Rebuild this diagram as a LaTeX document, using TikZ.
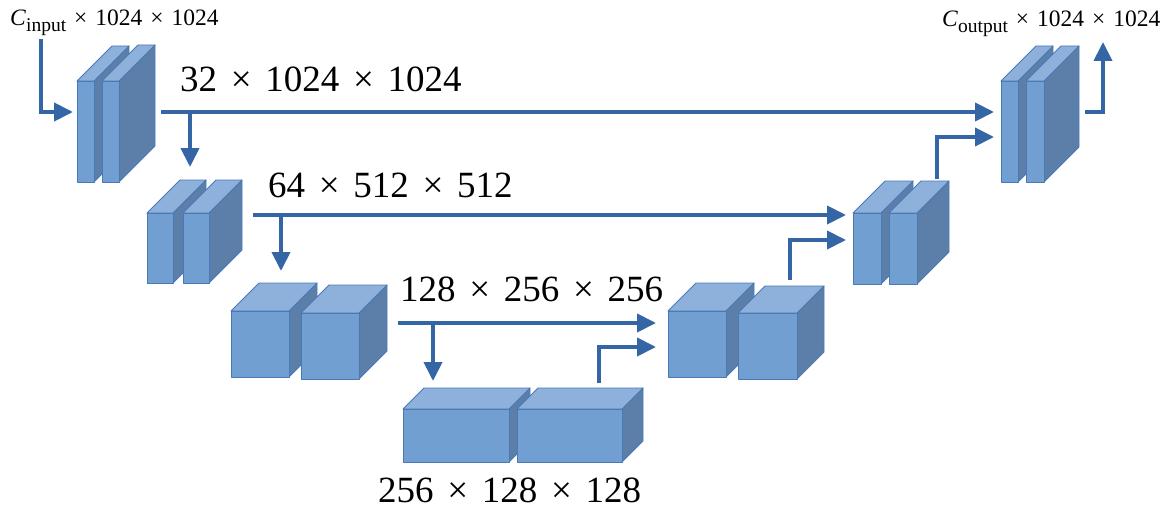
\documentclass[tikz,border=0pt]{standalone}
\usepackage{fontspec}
\setmainfont{Liberation Serif}
\usetikzlibrary{arrows.meta}

\definecolor{frontc}{RGB}{114,159,210}
\definecolor{topc}{RGB}{142,177,220}
\definecolor{sidec}{RGB}{91,127,169}
\definecolor{edgec}{RGB}{74,122,182}
\definecolor{arrowc}{RGB}{52,101,164}

\tikzset{
  face/.style={draw=edgec, line width=0.9pt, line join=round},
  arr/.style={draw=arrowc, line width=4pt, line join=miter,
              -{Triangle[length=19pt,width=18pt]}},
  dimlabel/.style={anchor=base west, inner sep=0pt, font=\fontsize{37}{40}\selectfont},
  smalllabel/.style={anchor=base west, inner sep=0pt, font=\fontsize{23.5}{26}\selectfont},
}

% a box: name, x, y (top-left of front face), width, height, depth
\newcommand\featbox[6]{%
  \filldraw[face, fill=sidec] (#2+#4,#3) -- ++(#6,-#6) -- ++(0,#5) -- (#2+#4,#3+#5) -- cycle;
  \filldraw[face, fill=topc] (#2,#3) -- ++(#6,-#6) -- ++(#4,0) -- (#2+#4,#3) -- cycle;
  \filldraw[face, fill=frontc] (#2,#3) rectangle ++(#4,#5);
  \node[inner sep=0pt, minimum width=#4pt, minimum height=#5pt, anchor=north west] (#1) at (#2,#3) {};
}
\newcommand\X{\hspace{0.37em}×\hspace{0.37em}}
\newcommand\Xs{\hspace{0.34em}×\hspace{0.34em}}
\newcommand\chsub[1]{\textit{C}\raisebox{-0.22em}{\fontsize{19.5}{21}\selectfont #1}}

\begin{document}
\begin{tikzpicture}[x=1pt, y=-1pt]
\useasboundingbox (0,0) rectangle (1172,508);

% encoder
\featbox{e1a}{77}{81}{17}{101}{35}
\featbox{e1b}{102}{81}{17}{101}{36}
\featbox{e2a}{147}{213}{26}{70}{33}
\featbox{e2b}{183}{213}{26}{70}{33}
\featbox{e3a}{231}{311}{58}{66}{28}
\featbox{e3b}{301}{313}{58}{66}{28}
% bottleneck
\featbox{b4a}{403}{409}{106}{53}{21}
\featbox{b4b}{517}{409}{105}{53}{21}
% decoder
\featbox{d3a}{668}{311}{58}{66}{28}
\featbox{d3b}{738}{313}{59}{66}{27}
\featbox{d2a}{853}{213}{28}{71}{32}
\featbox{d2b}{889}{213}{28}{71}{32}
\featbox{d1a}{1001}{81}{17}{101}{35}
\featbox{d1b}{1026}{81}{18}{101}{35}

% connector end points
\coordinate (inS) at (41,39);
\coordinate (inT) at (73,112);
\coordinate (s1S) at (161,112);
\coordinate (s1T) at (994,112);
\coordinate (d1S) at (190,112);
\coordinate (d1T) at (190,167);
\coordinate (s2S) at (253,215);
\coordinate (s2T) at (846,215);
\coordinate (d2S) at (281,215);
\coordinate (d2T) at (281,271);
\coordinate (s3S) at (398,323);
\coordinate (s3T) at (656,323);
\coordinate (d3S) at (433,323);
\coordinate (d3T) at (433,381);
\coordinate (u4S) at (599,383);
\coordinate (u4T) at (656,347);
\coordinate (u3S) at (790,280);
\coordinate (u3T) at (846,240);
\coordinate (u2S) at (937,179);
\coordinate (u2T) at (994,137);
\coordinate (outS) at (1085,112);
\coordinate (outT) at (1103,42);

\draw[arr] (inS) |- (inT);
\draw[arr] (s1S) -- (s1T);
\draw[arr] (d1S) -- (d1T);
\draw[arr] (s2S) -- (s2T);
\draw[arr] (d2S) -- (d2T);
\draw[arr] (s3S) -- (s3T);
\draw[arr] (d3S) -- (d3T);
\draw[arr] (u4S) |- (u4T);
\draw[arr] (u3S) |- (u3T);
\draw[arr] (u2S) |- (u2T);
\draw[arr] (outS) -| (outT);

% labels
\node[smalllabel] (lin) at (10,26) {\chsub{input}\Xs 1024\Xs 1024};
\node[smalllabel] (lout) at (942,27) {\chsub{output}\Xs 1024\Xs 1024};
\node[dimlabel] (l1) at (180,92) {32\X 1024\X 1024};
\node[dimlabel] (l2) at (268,197) {64\X 512\X 512};
\node[dimlabel] (l3) at (400,301) {128\X 256\X 256};
\node[dimlabel] (l4) at (378,502) {256\X 128\X 128};
\end{tikzpicture}
\end{document}
